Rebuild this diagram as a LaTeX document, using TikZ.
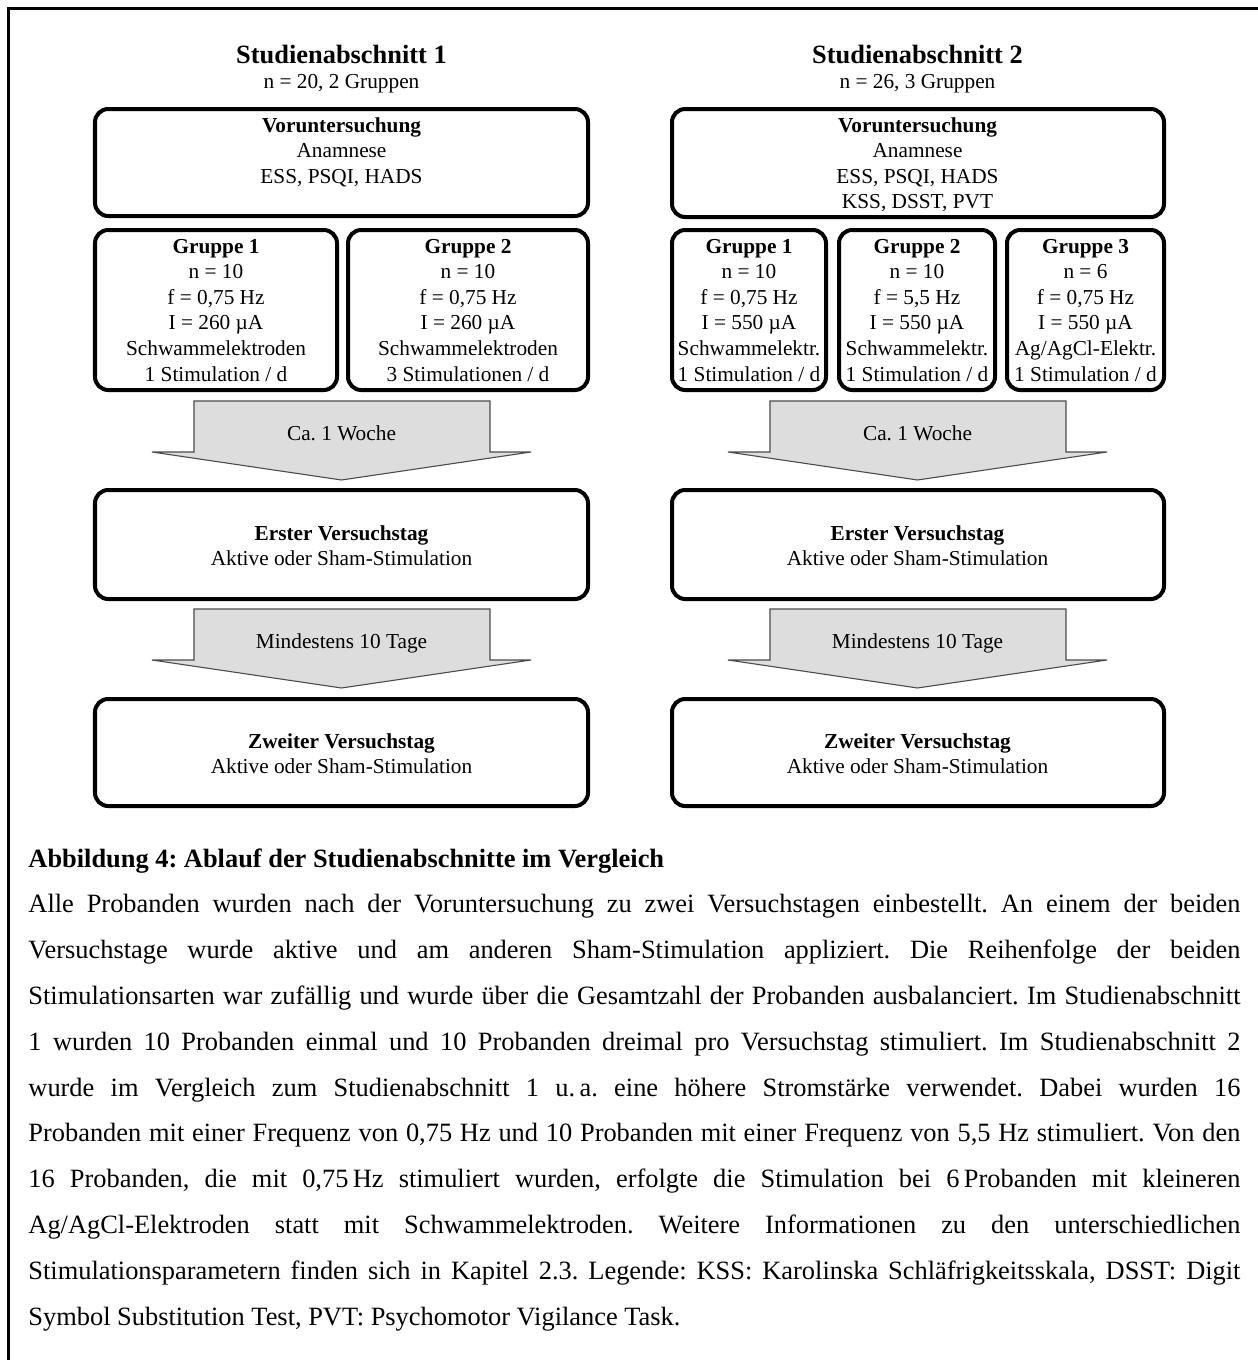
\documentclass[tikz,border=0pt]{standalone}
\usepackage{fontspec}
\setmainfont{Liberation Serif}
\newcommand{\boxfont}{\fontsize{9.68pt}{11.64pt}\selectfont\frenchspacing}
\newcommand{\titlefont}{\fontsize{12pt}{14pt}\selectfont\bfseries}
\newcommand{\capfont}{\fontsize{12pt}{20.82pt}\selectfont}
\newcommand{\mybox}[5]{\node[rbox, minimum width={(#4-#2)*0.4545pt}, minimum height={(#5-#3)*0.4545pt}] (#1) at ({(#2+#4)/2},{(#3+#5)/2}) {};}
\newcommand{\lines}[1]{\begin{tabular}[t]{@{}c@{}}#1\end{tabular}}
\definecolor{arrfill}{RGB}{221,221,221}
\begin{document}
\frenchspacing
\begin{tikzpicture}[x=0.4545pt, y=-0.4545pt,
  rbox/.style={draw, line width=1.82pt, rounded corners=6pt, inner sep=0pt},
  txt/.style={inner sep=0pt, anchor=base, font=\boxfont},
  ttl/.style={inner sep=0pt, anchor=base, font=\titlefont},
  blockarrow/.style={fill=arrfill, draw=black!70, line width=0.5pt, line join=miter}]
\useasboundingbox (0,0) rectangle (1258,1360);
% frame
\draw[line width=1.3pt] (8.5,1360) -- (8.5,8.5) -- (1258,8.5);

% ---------- Studienabschnitt 1 ----------
\node[ttl] (h1) at (341.5,63) {Studienabschnitt 1};
\node[txt] (s1) at (341.5,88) {n = 20, 2 Gruppen};
\mybox{v1}{95}{109}{588}{216}
\node[txt] (tv1) at (341.5,132) {\lines{\textbf{Voruntersuchung}\\Anamnese\\ESS, PSQI, HADS}};
\mybox{g11}{95}{230}{337}{390}
\mybox{g12}{348}{230}{588}{390}
\node[txt] (tg11) at (216,253) {\lines{\textbf{Gruppe 1}\\n = 10\\f = 0,75 Hz\\I = 260 µA\\Schwammelektroden\\1 Stimulation / d}};
\node[txt] (tg12) at (468,253) {\lines{\textbf{Gruppe 2}\\n = 10\\f = 0,75 Hz\\I = 260 µA\\Schwammelektroden\\3 Stimulationen / d}};
\path[blockarrow] (194,401) -- (490,401) -- (490,452) -- (531,452) -- (341.5,480) -- (152,452) -- (194,452) -- cycle;
\node[txt] (a11) at (341.5,440) {Ca. 1 Woche};
\mybox{e1}{95}{490}{588}{599}
\node[txt] (te1) at (341.5,540) {\lines{\textbf{Erster Versuchstag}\\Aktive oder Sham-Stimulation}};
\path[blockarrow] (194,609) -- (490,609) -- (490,660) -- (531,660) -- (341.5,688) -- (152,660) -- (194,660) -- cycle;
\node[txt] (a12) at (341.5,648) {Mindestens 10 Tage};
\mybox{z1}{95}{699}{588}{806}
\node[txt] (tz1) at (341.5,748) {\lines{\textbf{Zweiter Versuchstag}\\Aktive oder Sham-Stimulation}};

% ---------- Studienabschnitt 2 ----------
\node[ttl] (h2) at (917.5,63) {Studienabschnitt 2};
\node[txt] (s2) at (917.5,88) {n = 26, 3 Gruppen};
\mybox{v2}{672}{109}{1164}{217}
\node[txt] (tv2) at (917.5,132) {\lines{\textbf{Voruntersuchung}\\Anamnese\\ESS, PSQI, HADS\\KSS, DSST, PVT}};
\mybox{g21}{672}{230}{826}{390}
\mybox{g22}{839}{230}{995}{390}
\mybox{g23}{1007}{230}{1164}{390}
\node[txt] (tg21) at (749,253) {\lines{\textbf{Gruppe 1}\\n = 10\\f = 0,75 Hz\\I = 550 µA\\Schwammelektr.\\1 Stimulation / d}};
\node[txt] (tg22) at (917,253) {\lines{\textbf{Gruppe 2}\\n = 10\\f = 5,5 Hz\\I = 550 µA\\Schwammelektr.\\1 Stimulation / d}};
\node[txt] (tg23) at (1085.5,253) {\lines{\textbf{Gruppe 3}\\n = 6\\f = 0,75 Hz\\I = 550 µA\\Ag/AgCl-Elektr.\\1 Stimulation / d}};
\path[blockarrow] (770,401) -- (1066,401) -- (1066,452) -- (1107,452) -- (917.5,480) -- (728,452) -- (770,452) -- cycle;
\node[txt] (a21) at (917.5,440) {Ca. 1 Woche};
\mybox{e2}{672}{490}{1164}{599}
\node[txt] (te2) at (917.5,540) {\lines{\textbf{Erster Versuchstag}\\Aktive oder Sham-Stimulation}};
\path[blockarrow] (770,609) -- (1066,609) -- (1066,660) -- (1107,660) -- (917.5,688) -- (728,660) -- (770,660) -- cycle;
\node[txt] (a22) at (917.5,648) {Mindestens 10 Tage};
\mybox{z2}{672}{699}{1164}{806}
\node[txt] (tz2) at (917.5,748) {\lines{\textbf{Zweiter Versuchstag}\\Aktive oder Sham-Stimulation}};

% ---------- caption ----------
\node[anchor=base west, inner sep=0pt] (cap) at (28,867) {\parbox[t]{550.85pt}{\capfont\frenchspacing
\hyphenpenalty=10000 \exhyphenpenalty=10000 \hbadness=10000 \tolerance=10000
\textbf{Abbildung 4: Ablauf der Studienabschnitte im Vergleich}\par
Alle Probanden wurden nach der Voruntersuchung zu zwei Versuchstagen einbestellt. An einem der beiden\linebreak
Versuchstage wurde aktive und am anderen Sham-Stimulation appliziert. Die Reihenfolge der beiden\linebreak
Stimulationsarten war zufällig und wurde über die Gesamtzahl der Probanden ausbalanciert. Im Studienabschnitt\linebreak
1 wurden 10 Probanden einmal und 10 Probanden dreimal pro Versuchstag stimuliert. Im Studienabschnitt 2\linebreak
wurde im Vergleich zum Studienabschnitt 1 \mbox{u.\,a.} eine höhere Stromstärke verwendet. Dabei wurden 16\linebreak
Probanden mit einer Frequenz von 0,75 Hz und 10 Probanden mit einer Frequenz von 5,5 Hz stimuliert. Von den\linebreak
16 Probanden, die mit \mbox{0,75\,Hz} stimuliert wurden, erfolgte die Stimulation bei \mbox{6\,Probanden} mit kleineren\linebreak
Ag/AgCl-Elektroden statt mit Schwammelektroden. Weitere Informationen zu den unterschiedlichen\linebreak
Stimulationsparametern finden sich in Kapitel 2.3. Legende: KSS: Karolinska Schläfrigkeitsskala, DSST: Digit\linebreak
Symbol Substitution Test, PVT: Psychomotor Vigilance Task.\par}};
\end{tikzpicture}
\end{document}
